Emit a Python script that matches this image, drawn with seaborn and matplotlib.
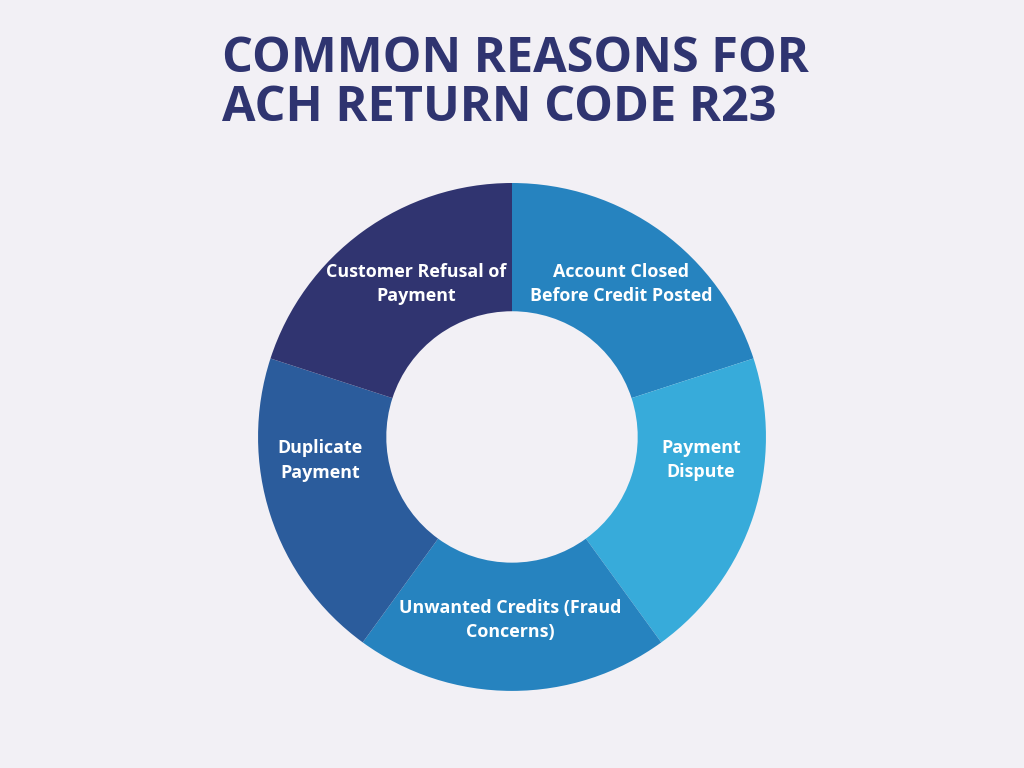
import matplotlib.pyplot as plt
import seaborn as sns
import numpy as np

# data
reasons = ["Account Closed\nBefore Credit Posted", "Payment\nDispute",
           "Unwanted Credits (Fraud\nConcerns)", "Duplicate\nPayment",
           "Customer Refusal of\nPayment"]
shares = [1, 1, 1, 1, 1]
colors = ["#2683BF", "#37ABDA", "#2683BF", "#2B5C9C", "#303470"]
# label placement (angle in degrees, radius as fraction of outer radius)
label_angles = [54.5, -7, -90.5, 187, 122]
label_radius = [0.74, 0.75, 0.72, 0.76, 0.71]

sns.set_theme(style="white")
plt.rcParams['font.family'] = ['Open Sans', 'DejaVu Sans']
bg = "#F2F0F5"

fig = plt.figure(figsize=(10.24, 7.68), dpi=100, facecolor=bg)
ax = fig.add_axes([0.252, 0.1003, 0.496, 0.6615])
ax.set_facecolor(bg)

ax.pie(shares, colors=colors, startangle=90, counterclock=False, radius=1,
       wedgeprops={"width": 0.505, "linewidth": 0})

for lab, ang, r in zip(reasons, label_angles, label_radius):
    a = np.deg2rad(ang)
    ax.text(r*np.cos(a), r*np.sin(a), lab, ha="center", va="center",
            color="white", fontsize=12.9, fontweight="bold", linespacing=1.45)

ax.set_xlim(-1, 1)
ax.set_ylim(-1, 1)
ax.set_aspect("equal")
ax.axis("off")

fig.text(0.217, 0.954, "COMMON REASONS FOR\nACH RETURN CODE R23", ha="left", va="top",
         color="#2F3470", fontsize=35, fontweight="bold", linespacing=0.98)

plt.savefig("out.png", dpi=100, facecolor=bg)
